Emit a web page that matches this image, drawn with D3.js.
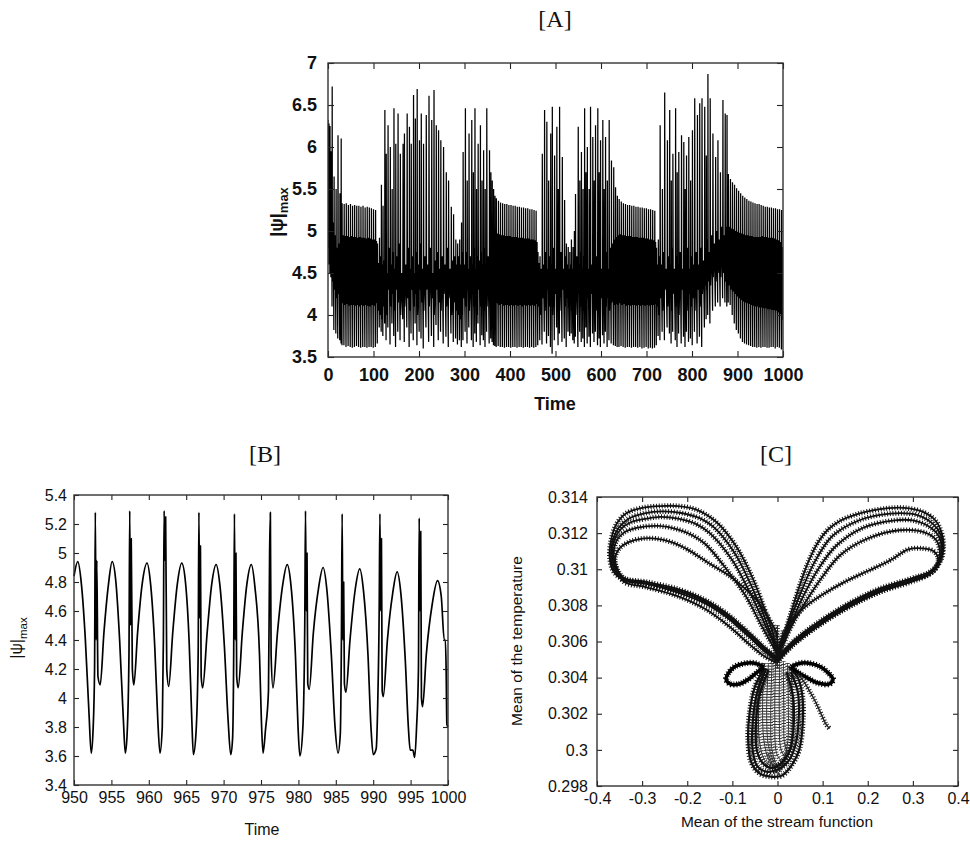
<!DOCTYPE html>
<html>
<head>
<meta charset="utf-8">
<script src="https://cdn.jsdelivr.net/npm/d3@7"></script>
<style>
  body { margin: 0; background: #fff; }
  svg { display: block; }
  .tick line { stroke: #222; stroke-width: 1.1; }
  .domain { display: none; }
  .title { font-family: "Liberation Serif", "DejaVu Serif", serif; font-size: 24px; fill: #111; }
</style>
</head>
<body>
<svg id="chart" width="970" height="841"></svg>
<script>
// ---------- panel A : |psi|max vs time (one row per oscillation cycle) ----------
// [time, spike, local min, broad peak, deep min]
var aCycles = [
  [0, 6.32, 4.8, 5.9, 4.6], [2.2, 6.28, 4.6, 6.05, 4.5], [4.4, 6.25, 4.9, 5.7, 4.45], [6.6, 5.95, 4.5, 5.4, 4.1],
  [9.2, 6.72, 4.4, 5.1, 3.82], [13.4, 5.65, 4.3, 4.95, 3.78], [17.8, 5.5, 4.2, 4.8, 3.72], [22.0, 6.14, 4.25, 4.85, 3.7],
  [26.3, 5.45, 4.2, 4.9, 3.66], [29.0, 6.1, 4.15, 4.93, 3.64],
  [31.0, 5.33, 4.14, 4.95, 3.64], [35.6, 5.32, 4.12, 4.94, 3.62], [40.2, 5.33, 4.13, 4.94, 3.63], [44.8, 5.31, 4.11, 4.93, 3.62],
  [49.4, 5.32, 4.12, 4.94, 3.61], [54.0, 5.30, 4.12, 4.93, 3.62], [58.6, 5.31, 4.11, 4.93, 3.63], [63.2, 5.30, 4.12, 4.92, 3.62],
  [67.8, 5.30, 4.10, 4.93, 3.61], [72.4, 5.29, 4.12, 4.92, 3.62], [77.0, 5.30, 4.11, 4.92, 3.62], [81.6, 5.28, 4.12, 4.91, 3.61],
  [86.2, 5.29, 4.11, 4.92, 3.62], [90.8, 5.28, 4.10, 4.91, 3.62], [95.4, 5.27, 4.12, 4.90, 3.61], [100.0, 5.26, 4.11, 4.90, 3.62],
  [104.6, 5.25, 4.14, 4.88, 3.66],
  [108.8, 4.85, 4.05, 4.62, 3.85], [113.2, 4.92, 4.0, 4.7, 3.8], [117.4, 5.55, 3.95, 4.6, 3.75], [121.0, 5.3, 4.1, 4.65, 3.9],
  [125, 6.44, 4.2, 4.7, 3.7], [128, 5.92, 4.0, 4.5, 3.85], [132, 6.26, 4.3, 4.8, 3.65], [137, 6.0, 4.1, 4.6, 3.9],
  [141, 5.5, 4.25, 4.75, 3.75], [145, 6.46, 4.05, 4.55, 3.62], [149, 6.04, 4.3, 4.7, 3.8], [154, 6.4, 4.15, 4.85, 3.7],
  [159, 5.92, 4.0, 4.5, 3.95], [165, 6.04, 4.35, 4.65, 3.68], [168, 6.16, 4.1, 4.6, 3.85], [174, 6.4, 4.2, 4.8, 3.62],
  [179, 6.24, 4.05, 4.55, 3.78], [183, 6.04, 4.3, 4.7, 3.7], [188, 6.62, 4.1, 4.5, 3.9], [192, 6.34, 4.25, 4.75, 3.64],
  [196, 6.69, 4.0, 4.6, 3.8], [201, 6.08, 4.3, 4.85, 3.72], [205, 6.4, 4.15, 4.55, 3.6], [210, 6.04, 4.05, 4.7, 3.85],
  [216, 6.38, 4.3, 4.6, 3.68], [222, 6.61, 4.1, 4.8, 3.75], [228, 6.32, 4.2, 4.5, 3.62], [233, 6.68, 4.0, 4.65, 3.88],
  [238, 6.26, 4.3, 4.75, 3.7], [243, 6.2, 4.15, 4.55, 3.8], [248, 6.08, 4.05, 4.7, 3.66], [254, 6.0, 4.25, 4.6, 3.74],
  [260, 5.7, 4.1, 4.8, 3.62], [265, 5.6, 4.2, 4.55, 3.78], [271, 5.29, 4.0, 4.65, 3.68], [276, 5.2, 4.15, 4.7, 3.72],
  [281, 4.9, 4.05, 4.6, 3.65], [285, 4.85, 4.0, 4.7, 3.7], [289.5, 4.9, 3.95, 4.6, 3.62], [293.5, 5.1, 4.0, 4.75, 3.7],
  [297, 5.94, 4.2, 4.6, 3.8], [302, 6.46, 4.1, 4.75, 3.66], [306, 5.6, 4.3, 4.55, 3.85], [310, 6.16, 4.05, 4.7, 3.7],
  [316, 6.32, 4.25, 4.6, 3.62], [319.5, 5.7, 4.1, 4.8, 3.78], [323, 6.46, 4.2, 4.55, 3.68], [326.5, 5.5, 4.0, 4.7, 3.9],
  [330, 6.04, 4.3, 4.65, 3.64], [335, 6.26, 4.1, 4.75, 3.76], [338.5, 5.6, 4.2, 4.6, 3.7], [342, 5.96, 4.05, 4.8, 3.62],
  [345.5, 5.5, 4.25, 4.55, 3.8], [349, 6.46, 4.1, 4.7, 3.66], [355, 5.96, 4.2, 4.85, 3.72], [358, 5.7, 4.1, 4.75, 3.68],
  [361, 5.6, 4.15, 4.9, 3.64], [364, 5.5, 4.12, 4.92, 3.63], [367, 5.42, 4.13, 4.95, 3.62],
  [370.0, 5.39, 4.14, 4.97, 3.63], [374.6, 5.36, 4.12, 4.96, 3.62], [379.2, 5.34, 4.13, 4.95, 3.62], [383.8, 5.33, 4.11, 4.95, 3.61],
  [388.4, 5.32, 4.12, 4.94, 3.62], [393.0, 5.32, 4.12, 4.94, 3.62], [397.6, 5.31, 4.11, 4.94, 3.61], [402.2, 5.31, 4.12, 4.93, 3.62],
  [406.8, 5.30, 4.11, 4.93, 3.62], [411.4, 5.30, 4.12, 4.93, 3.61], [416.0, 5.29, 4.11, 4.92, 3.62], [420.6, 5.29, 4.12, 4.92, 3.62],
  [425.2, 5.28, 4.10, 4.92, 3.61], [429.8, 5.28, 4.12, 4.91, 3.62], [434.4, 5.27, 4.11, 4.91, 3.62], [439.0, 5.27, 4.12, 4.91, 3.61],
  [443.6, 5.26, 4.11, 4.90, 3.62], [448.2, 5.26, 4.12, 4.90, 3.61], [452.8, 5.25, 4.11, 4.89, 3.62], [457.4, 5.24, 4.13, 4.87, 3.64],
  [461.5, 4.75, 4.1, 4.62, 3.7], [466.0, 4.7, 4.0, 4.55, 3.65],
  [471, 5.92, 4.2, 4.6, 3.8], [476, 6.44, 4.05, 4.75, 3.66], [481, 6.3, 4.3, 4.55, 3.75], [485, 5.6, 4.1, 4.7, 3.62],
  [489.5, 6.16, 4.2, 4.6, 3.54], [493, 6.48, 4.0, 4.8, 3.7], [498, 5.9, 4.25, 4.55, 3.85], [503, 6.24, 4.1, 4.7, 3.64],
  [506, 5.5, 4.2, 4.6, 3.78], [509, 6.48, 4.05, 4.75, 3.68], [515, 5.88, 4.3, 4.55, 3.72], [520, 5.37, 4.1, 4.7, 3.62],
  [524, 4.85, 4.2, 4.6, 3.8], [528, 4.81, 4.1, 4.55, 3.75], [531.5, 4.75, 4.15, 4.6, 3.78], [535, 4.9, 4.05, 4.55, 3.7],
  [538.5, 4.81, 4.2, 4.6, 3.66], [541.5, 5.0, 4.1, 4.55, 3.74], [544, 5.44, 4.0, 4.7, 3.62], [550, 6.24, 4.25, 4.6, 3.8],
  [553.5, 5.6, 4.1, 4.75, 3.68], [557, 5.94, 4.2, 4.55, 3.72], [560.5, 5.5, 4.05, 4.7, 3.62], [564, 6.46, 4.3, 4.6, 3.85],
  [567, 5.7, 4.1, 4.8, 3.66], [570, 6.0, 4.2, 4.55, 3.74], [574, 5.5, 4.0, 4.7, 3.62], [577, 6.48, 4.25, 4.6, 3.78],
  [582, 6.12, 4.1, 4.75, 3.68], [585, 5.6, 4.2, 4.55, 3.8], [588, 6.26, 4.05, 4.7, 3.64], [593, 6.46, 4.3, 4.6, 3.72],
  [596, 5.7, 4.1, 4.8, 3.62], [599, 6.08, 4.2, 4.55, 3.76], [604, 6.32, 4.0, 4.7, 3.66], [607, 5.5, 4.25, 4.6, 3.8],
  [610, 6.12, 4.1, 4.75, 3.62], [614, 5.6, 4.2, 4.55, 3.7], [618, 6.32, 4.05, 4.8, 3.66], [623, 5.84, 4.15, 4.85, 3.64],
  [628, 5.76, 4.12, 4.9, 3.63], [632, 5.52, 4.13, 4.93, 3.62], [636, 5.42, 4.12, 4.95, 3.62],
  [640.0, 5.38, 4.14, 4.96, 3.63], [644.6, 5.35, 4.12, 4.95, 3.62], [649.2, 5.33, 4.13, 4.95, 3.61], [653.8, 5.32, 4.11, 4.94, 3.62],
  [658.4, 5.31, 4.12, 4.94, 3.62], [663.0, 5.31, 4.11, 4.94, 3.61], [667.6, 5.30, 4.12, 4.93, 3.62], [672.2, 5.30, 4.12, 4.93, 3.62],
  [676.8, 5.29, 4.11, 4.93, 3.61], [681.4, 5.29, 4.12, 4.92, 3.62], [686.0, 5.28, 4.11, 4.92, 3.60], [690.6, 5.28, 4.12, 4.92, 3.61],
  [695.2, 5.27, 4.11, 4.91, 3.62], [699.8, 5.27, 4.12, 4.91, 3.60], [704.4, 5.26, 4.11, 4.90, 3.61], [709.0, 5.26, 4.12, 4.90, 3.60],
  [713.6, 5.25, 4.12, 4.89, 3.61], [718.2, 5.24, 4.13, 4.87, 3.64],
  [722.0, 4.8, 4.1, 4.6, 3.75], [726.0, 4.9, 4.0, 4.7, 3.7],
  [730, 6.26, 4.2, 4.6, 3.8], [735, 5.5, 4.05, 4.75, 3.7], [740, 6.65, 4.3, 4.55, 3.85], [746, 6.08, 4.1, 4.7, 3.78],
  [751, 6.44, 4.2, 4.6, 3.66], [754.5, 5.6, 4.05, 4.8, 3.8], [758, 5.92, 4.25, 4.55, 3.7], [764, 6.46, 4.1, 4.7, 3.62],
  [767.5, 5.7, 4.2, 4.6, 3.78], [771, 5.94, 4.0, 4.75, 3.66], [777, 6.14, 4.3, 4.55, 3.74], [782, 6.06, 4.1, 4.7, 3.62],
  [785, 5.5, 4.2, 4.6, 3.8], [788, 5.9, 4.05, 4.8, 3.68], [793, 6.12, 4.25, 4.55, 3.72], [797, 5.6, 4.1, 4.7, 3.64],
  [801, 6.2, 4.2, 4.6, 3.8], [806, 6.58, 4.05, 4.75, 3.66], [812, 6.38, 4.3, 4.6, 3.74], [817, 6.52, 4.1, 4.8, 3.62],
  [822, 6.58, 4.25, 4.65, 3.85], [828, 6.48, 4.35, 4.8, 3.95], [831.5, 5.9, 4.3, 4.9, 4.0], [835, 6.87, 4.4, 4.75, 3.9],
  [840, 6.58, 4.35, 4.95, 4.05], [846, 6.16, 4.45, 4.85, 4.1], [852, 5.88, 4.4, 5.0, 4.15], [857, 6.08, 4.5, 4.9, 4.1],
  [862.5, 5.7, 4.45, 5.05, 4.2], [868, 6.56, 4.5, 4.95, 4.15], [873, 6.4, 4.4, 5.05, 4.1], [877, 6.38, 4.45, 5.0, 4.15],
  [880, 5.68, 4.35, 5.05, 4.12], [884.5, 5.62, 4.3, 5.03, 4.0], [889, 5.58, 4.28, 5.02, 3.9], [893.5, 5.55, 4.25, 5.0, 3.82],
  [898, 5.51, 4.22, 4.99, 3.78], [902.5, 5.48, 4.2, 4.98, 3.72], [907, 5.45, 4.18, 4.97, 3.68], [911.5, 5.42, 4.16, 4.96, 3.66],
  [916, 5.40, 4.15, 4.95, 3.65], [920.5, 5.38, 4.14, 4.95, 3.64], [925, 5.36, 4.13, 4.94, 3.63], [929.5, 5.35, 4.12, 4.94, 3.62],
  [934, 5.34, 4.11, 4.93, 3.62], [938.5, 5.33, 4.1, 4.93, 3.61], [943, 5.32, 4.1, 4.93, 3.62], [947.5, 5.32, 4.09, 4.93, 3.61],
  [952, 5.31, 4.09, 4.94, 3.62], [956.5, 5.30, 4.08, 4.93, 3.62], [961, 5.29, 4.08, 4.93, 3.61], [965.5, 5.29, 4.07, 4.92, 3.61],
  [970, 5.28, 4.07, 4.92, 3.62], [974.5, 5.28, 4.06, 4.92, 3.62], [979, 5.27, 4.06, 4.91, 3.60], [983.5, 5.27, 4.05, 4.90, 3.62],
  [988, 5.26, 4.03, 4.89, 3.61], [992.5, 5.26, 4.01, 4.87, 3.59], [997, 5.25, 3.94, 4.81, 3.6]
];
var aXTicks = [0, 100, 200, 300, 400, 500, 600, 700, 800, 900, 1000];
var aYTicks = [3.5, 4, 4.5, 5, 5.5, 6, 6.5, 7];

// ---------- panel B : zoom on the last 50 time units ----------
var bTime = [950.0, 950.5, 951.0, 951.5, 952.0, 952.3, 952.55, 952.75, 952.85, 952.95, 953.05, 953.2, 953.5, 954.0, 954.6,
  955.1, 955.6, 956.1, 956.6, 956.86, 957.1, 957.35, 957.45, 957.55, 957.65, 957.8, 958.0, 958.5, 959.1,
  959.76, 960.25, 960.8, 961.2, 961.5, 961.8, 961.95, 962.05, 962.15, 962.25, 962.4, 962.66, 963.2, 963.8,
  964.4, 964.9, 965.4, 965.75, 965.96, 966.3, 966.6, 966.7, 966.8, 966.9, 967.0, 967.2, 967.8, 968.4,
  969.0, 969.5, 970.1, 970.6, 970.95, 971.2, 971.35, 971.45, 971.55, 971.65, 971.75, 971.95, 972.5, 973.1,
  973.7, 974.2, 974.8, 975.05, 975.27, 975.6, 976.0, 976.15, 976.25, 976.35, 976.6, 977.2, 977.9,
  978.5, 979.0, 979.6, 979.95, 980.2, 980.6, 980.85, 980.95, 981.05, 981.15, 981.25, 981.45, 982.0, 982.7,
  983.3, 983.8, 984.4, 984.9, 985.3, 985.6, 985.75, 985.85, 985.95, 986.05, 986.15, 986.35, 986.9, 987.6,
  988.2, 988.7, 989.3, 989.7, 990.0, 990.4, 990.6, 990.8, 990.9, 991.0, 991.1, 991.2, 991.35, 991.9, 992.6,
  993.2, 993.7, 994.3, 994.7, 994.95, 995.3, 995.55, 995.8, 996.05, 996.15, 996.25, 996.35, 996.45, 996.6, 997.1, 997.9,
  998.6, 999.1, 999.5, 999.65, 999.75, 999.85, 1000];
var bPsi = [4.84, 4.94, 4.78, 4.42, 3.90, 3.62, 3.78, 4.20, 5.28, 4.40, 4.95, 4.15, 4.09, 4.45, 4.78,
  4.94, 4.80, 4.40, 3.85, 3.62, 3.75, 4.30, 5.29, 4.50, 5.10, 4.20, 4.09, 4.45, 4.78,
  4.93, 4.78, 4.35, 3.85, 3.62, 3.80, 4.40, 5.29, 4.95, 5.25, 4.20, 4.08, 4.45, 4.78,
  4.93, 4.80, 4.38, 3.85, 3.61, 3.75, 4.30, 5.28, 4.55, 5.05, 4.15, 4.07, 4.45, 4.78,
  4.92, 4.78, 4.36, 3.85, 3.61, 3.72, 4.30, 5.27, 4.40, 5.00, 4.15, 4.07, 4.45, 4.78,
  4.92, 4.76, 4.30, 3.85, 3.62, 3.78, 4.05, 5.00, 5.28, 4.30, 4.07, 4.45, 4.78,
  4.92, 4.78, 4.30, 3.80, 3.60, 3.80, 4.50, 5.29, 4.60, 5.00, 4.10, 4.06, 4.45, 4.76,
  4.90, 4.75, 4.30, 3.80, 3.62, 3.75, 4.40, 5.27, 4.40, 4.80, 4.10, 4.04, 4.40, 4.75,
  4.89, 4.74, 4.30, 3.80, 3.61, 3.65, 3.95, 4.60, 5.27, 4.60, 5.10, 4.05, 4.01, 4.40, 4.72,
  4.87, 4.72, 4.25, 3.80, 3.64, 3.64, 3.59, 3.80, 4.20, 5.24, 4.60, 5.15, 4.00, 3.94, 4.30, 4.65,
  4.81, 4.70, 4.40, 4.40, 4.20, 3.82, 3.80];
var bXTicks = [950, 955, 960, 965, 970, 975, 980, 985, 990, 995, 1000];
var bYTicks = [3.4, 3.6, 3.8, 4, 4.2, 4.4, 4.6, 4.8, 5, 5.2, 5.4];

// ---------- panel C : phase portrait (mean stream function, mean temperature) ----------
var cLeftLoops = [
  [[0.0,0.3050],[-0.03,0.3056],[-0.06,0.3063],[-0.11,0.3074],[-0.16,0.3082],[-0.22,0.3088],[-0.29,0.3092],[-0.34,0.3094],[-0.364,0.3099],
   [-0.372,0.3107],[-0.369,0.3116],[-0.357,0.3125],[-0.335,0.3131],[-0.30,0.3134],[-0.26,0.3135],[-0.22,0.3135],[-0.18,0.3133],
   [-0.135,0.3126],[-0.09,0.3112],[-0.055,0.3095],[-0.03,0.3079],[-0.012,0.3066],[0.0,0.3054]],
  [[0.0,0.3051],[-0.03,0.3057],[-0.06,0.3064],[-0.11,0.3075],[-0.16,0.3083],[-0.22,0.3089],[-0.29,0.3093],[-0.34,0.3095],[-0.362,0.3100],
   [-0.369,0.3108],[-0.365,0.3116],[-0.352,0.3123],[-0.33,0.3128],[-0.295,0.3131],[-0.255,0.3132],[-0.21,0.3131],[-0.17,0.3128],
   [-0.14,0.3123],[-0.095,0.3109],[-0.06,0.3092],[-0.033,0.3076],[-0.013,0.3063],[0.0,0.3054]],
  [[0.0,0.3049],[-0.03,0.3055],[-0.06,0.3062],[-0.11,0.3073],[-0.16,0.3081],[-0.22,0.3087],[-0.29,0.3092],[-0.34,0.3094],[-0.36,0.3101],
   [-0.366,0.3109],[-0.362,0.3116],[-0.348,0.3122],[-0.325,0.3126],[-0.29,0.3128],[-0.26,0.3129],[-0.22,0.3128],[-0.18,0.3125],
   [-0.15,0.3120],[-0.10,0.3105],[-0.065,0.3089],[-0.036,0.3074],[-0.014,0.3062],[0.0,0.3054]],
  [[0.0,0.3048],[-0.03,0.3052],[-0.06,0.3058],[-0.11,0.3069],[-0.16,0.3078],[-0.22,0.3085],[-0.29,0.3090],[-0.34,0.3093],[-0.358,0.3101],
   [-0.363,0.3108],[-0.358,0.3115],[-0.342,0.3120],[-0.31,0.3123],[-0.265,0.3124],[-0.22,0.3122],[-0.19,0.3119],
   [-0.16,0.3114],[-0.11,0.3099],[-0.07,0.3085],[-0.04,0.3071],[-0.016,0.3060],[0.0,0.3053]],
  [[0.0,0.3050],[-0.03,0.3056],[-0.06,0.3063],[-0.11,0.3074],[-0.16,0.3082],[-0.22,0.3088],[-0.29,0.3092],[-0.34,0.3095],[-0.355,0.3100],
   [-0.36,0.3106],[-0.352,0.3111],[-0.33,0.3115],[-0.30,0.3117],[-0.27,0.3117],[-0.235,0.3115],[-0.2,0.3111],
   [-0.15,0.3103],[-0.11,0.3097],[-0.075,0.3090],[-0.043,0.3082],[-0.02,0.3073],[-0.003,0.3065],[0.0,0.3055]]
];
var cRightLoops = [
  [[0.0,0.3050],[0.03,0.3058],[0.075,0.3067],[0.15,0.3079],[0.223,0.3088],[0.297,0.3094],[0.34,0.3098],[0.362,0.3105],[0.368,0.3112],
   [0.364,0.3120],[0.35,0.3127],[0.32,0.3132],[0.28,0.3134],[0.245,0.31338],[0.20,0.3132],[0.17,0.3130],[0.14,0.3127],
   [0.112,0.3122],[0.09,0.3115],[0.068,0.3104],[0.045,0.3088],[0.025,0.3072],[0.01,0.3060],[0.0,0.3052]],
  [[0.0,0.3051],[0.03,0.3059],[0.075,0.3068],[0.15,0.3080],[0.223,0.3089],[0.297,0.3095],[0.34,0.3099],[0.36,0.3105],[0.366,0.3112],
   [0.362,0.3119],[0.345,0.3125],[0.31,0.3130],[0.25,0.31308],[0.18,0.3127],[0.12,0.3118],[0.08,0.3103],[0.05,0.3086],
   [0.025,0.3070],[0.01,0.3059],[0.0,0.3052]],
  [[0.0,0.3049],[0.03,0.3057],[0.075,0.3066],[0.15,0.3078],[0.223,0.3087],[0.297,0.3094],[0.34,0.3098],[0.358,0.3104],[0.364,0.3111],
   [0.358,0.3118],[0.34,0.3123],[0.30,0.3127],[0.26,0.31271],[0.19,0.3123],[0.13,0.3113],[0.09,0.3100],[0.055,0.3084],
   [0.028,0.3069],[0.01,0.3058],[0.0,0.3052]],
  [[0.0,0.3050],[0.03,0.3058],[0.075,0.3067],[0.15,0.3079],[0.223,0.3088],[0.297,0.3094],[0.34,0.3098],[0.355,0.3103],[0.36,0.3109],
   [0.352,0.3116],[0.33,0.3120],[0.27,0.31216],[0.2,0.3117],[0.14,0.3108],[0.10,0.3096],[0.06,0.3081],[0.03,0.3068],
   [0.012,0.3058],[0.0,0.3052]],
  [[0.0,0.3049],[0.03,0.3057],[0.075,0.3066],[0.15,0.3078],[0.223,0.3087],[0.297,0.3093],[0.335,0.3097],[0.352,0.3101],[0.356,0.3106],
   [0.346,0.3110],[0.322,0.31115],[0.29,0.3111],[0.25,0.3105],[0.2,0.3099],[0.149,0.3093],[0.10,0.3086],[0.065,0.3080],
   [0.04,0.3074],[0.02,0.3067],[0.006,0.3059],[0.0,0.3052]]
];
var cSmallLoops = [
  [[-0.03,0.3046],[-0.05,0.3048],[-0.07,0.3048],[-0.095,0.3046],[-0.11,0.3042],[-0.114,0.3039],[-0.105,0.30365],[-0.085,0.30365],
   [-0.065,0.3039],[-0.045,0.3043],[-0.03,0.3046]],
  [[0.03,0.3046],[0.05,0.3048],[0.07,0.3048],[0.095,0.3046],[0.115,0.3042],[0.123,0.3039],[0.115,0.30365],[0.09,0.3037],
   [0.065,0.3040],[0.045,0.3043],[0.03,0.3046]]
];
var cLowerLoops = [
  [[-0.03,0.3045],[-0.05,0.3035],[-0.062,0.3020],[-0.065,0.3005],[-0.058,0.2993],[-0.04,0.2987],[-0.015,0.29852],[0.01,0.29858],
   [0.03,0.2991],[0.048,0.3000],[0.056,0.3015],[0.055,0.3030],[0.045,0.3040],[0.025,0.3046]],
  [[-0.025,0.3045],[-0.045,0.3032],[-0.055,0.3015],[-0.055,0.3000],[-0.045,0.2991],[-0.025,0.2988],[0.0,0.2989],[0.025,0.2994],
   [0.04,0.3003],[0.047,0.3017],[0.045,0.3032],[0.03,0.3043]],
  [[-0.02,0.3044],[-0.04,0.3030],[-0.048,0.3012],[-0.045,0.2999],[-0.03,0.2992],[-0.01,0.2990],[0.01,0.2993],[0.028,0.3000],
   [0.036,0.3014],[0.034,0.3030],[0.02,0.3043]]
];
var cHatch = [
  [[-0.038,0.3046],[-0.042,0.3025],[-0.04,0.3005],[-0.03,0.2995],[-0.015,0.2991]],
  [[-0.03,0.3048],[-0.033,0.3025],[-0.03,0.3005],[-0.018,0.2994],[0.0,0.2990]],
  [[-0.02,0.3048],[-0.024,0.3022],[-0.02,0.3002],[-0.008,0.2993]],
  [[-0.012,0.3048],[-0.015,0.3020],[-0.012,0.3000],[0.0,0.2992],[0.015,0.2995]],
  [[-0.004,0.3050],[-0.006,0.3020],[-0.002,0.2998],[0.008,0.2994]],
  [[0.005,0.3050],[0.004,0.3020],[0.008,0.3000],[0.02,0.2995]],
  [[0.013,0.3049],[0.014,0.3022],[0.016,0.3003],[0.025,0.2998]],
  [[0.022,0.3048],[0.024,0.3025],[0.022,0.3003],[0.01,0.2993],[-0.01,0.2991]],
  [[0.03,0.3046],[0.033,0.3025],[0.03,0.3005],[0.02,0.2996]],
  [[-0.012,0.3068],[-0.006,0.3058],[-0.002,0.3050]],
  [[0.0,0.3069],[0.0,0.3045]],
  [[0.012,0.3066],[0.006,0.3057],[0.002,0.3050]],
  [[-0.02,0.2998],[-0.008,0.2990],[0.0,0.2987],[0.01,0.2991],[0.022,0.2998]]
];
var cTail = [[0.045,0.3042],[0.0565,0.30385],[0.07,0.3033],[0.0862,0.30256],[0.10,0.3018],[0.108,0.3014],[0.1157,0.30118]];
var cXTicks = [-0.4, -0.3, -0.2, -0.1, 0, 0.1, 0.2, 0.3, 0.4];
var cYTicks = [0.298, 0.3, 0.302, 0.304, 0.306, 0.308, 0.31, 0.312, 0.314];

var svg = d3.select("#chart");
svg.append("rect").attr("width", 970).attr("height", 841).attr("fill", "#fff");

var fmt = function(d) { return String(+d.toFixed(3)); };

// gnuplot-like box with mirrored inward ticks
function drawFrame(g, x, y, xt, yt, o) {
  var x0 = x.range()[0], x1 = x.range()[1], y0 = y.range()[0], y1 = y.range()[1];
  g.append("g").attr("transform", "translate(0," + y0 + ")")
    .call(d3.axisBottom(x).tickValues(xt).tickSize(-o.tick).tickSizeOuter(0).tickPadding(o.padX).tickFormat(fmt));
  g.append("g").attr("transform", "translate(0," + y1 + ")")
    .call(d3.axisTop(x).tickValues(xt).tickSize(-o.tick).tickSizeOuter(0).tickFormat(""));
  g.append("g").attr("transform", "translate(" + x0 + ",0)")
    .call(d3.axisLeft(y).tickValues(yt).tickSize(-o.tick).tickSizeOuter(0).tickPadding(o.padY).tickFormat(fmt));
  g.append("g").attr("transform", "translate(" + x1 + ",0)")
    .call(d3.axisRight(y).tickValues(yt).tickSize(-o.tick).tickSizeOuter(0).tickFormat(""));
  g.selectAll(".tick text")
    .attr("font-family", "'Liberation Sans', Arial, sans-serif")
    .attr("font-size", o.font).attr("font-weight", o.weight).attr("fill", "#111");
  g.append("rect").attr("x", x0).attr("y", y1).attr("width", x1 - x0).attr("height", y0 - y1)
    .attr("fill", "none").attr("stroke", "#333").attr("stroke-width", 1.4);
}

function psiLabel(g, x, y, size, weight) {
  var t = g.append("text").attr("transform", "translate(" + x + "," + y + ") rotate(-90)")
    .attr("text-anchor", "middle").attr("font-family", "'Liberation Sans', Arial, sans-serif")
    .attr("font-size", size).attr("font-weight", weight).attr("fill", "#111");
  t.append("tspan").text("|\u03C8|");
  t.append("tspan").attr("dy", size * 0.3).attr("font-size", size * 0.72).text("max");
}

function axisTitle(g, x, y, txt, size, weight, rot) {
  g.append("text").attr("transform", "translate(" + x + "," + y + ")" + (rot ? " rotate(-90)" : ""))
    .attr("text-anchor", "middle").attr("font-family", "'Liberation Sans', Arial, sans-serif")
    .attr("font-size", size).attr("font-weight", weight).attr("fill", "#111").text(txt);
}

// ---------------- Panel A ----------------
var xA = d3.scaleLinear().domain([0, 1000]).range([328, 783]);
var yA = d3.scaleLinear().domain([3.5, 7]).range([357, 63]);
var gA = svg.append("g");
svg.append("clipPath").attr("id", "clipA").append("rect").attr("x", 328).attr("y", 63).attr("width", 455).attr("height", 294);

var aPts = [];
aCycles.forEach(function(c, i) {
  var next = i < aCycles.length - 1 ? aCycles[i + 1][0] : c[0] + 4.6;
  var dt = next - c[0];
  aPts.push([c[0], c[1]], [c[0] + 0.13 * dt, c[2]], [c[0] + 0.5 * dt, c[3]], [c[0] + 0.87 * dt, c[4]]);
});
gA.append("path").datum(aPts).attr("clip-path", "url(#clipA)")
  .attr("fill", "none").attr("stroke", "#000").attr("stroke-width", 1.25)
  .attr("d", d3.line().x(function(d) { return xA(d[0]); }).y(function(d) { return yA(d[1]); }));
drawFrame(gA, xA, yA, aXTicks, aYTicks, { tick: 6, padX: 11, padY: 11, font: 18, weight: "bold" });
svg.append("text").attr("class", "title").attr("x", 555).attr("y", 27).attr("text-anchor", "middle").text("[A]");
axisTitle(gA, 555, 410, "Time", 18, "bold", false);
psiLabel(gA, 283, 212, 18, "bold");

// ---------------- Panel B ----------------
var xB = d3.scaleLinear().domain([950, 1000]).range([74, 448]);
var yB = d3.scaleLinear().domain([3.4, 5.4]).range([785, 495]);
var gB = svg.append("g");
gB.append("path").datum(d3.zip(bTime, bPsi))
  .attr("fill", "none").attr("stroke", "#000").attr("stroke-width", 1.7).attr("stroke-linejoin", "round")
  .attr("d", d3.line().x(function(d) { return xB(d[0]); }).y(function(d) { return yB(d[1]); }).curve(d3.curveMonotoneX));
drawFrame(gB, xB, yB, bXTicks, bYTicks, { tick: 5, padX: 7, padY: 7, font: 16, weight: "normal" });
svg.append("text").attr("class", "title").attr("x", 265).attr("y", 462).attr("text-anchor", "middle").text("[B]");
axisTitle(gB, 262, 835, "Time", 16, "normal", false);
psiLabel(gB, 22, 638, 16, "normal");

// ---------------- Panel C ----------------
var xC = d3.scaleLinear().domain([-0.4, 0.4]).range([597, 958]);
var yC = d3.scaleLinear().domain([0.298, 0.314]).range([786, 497]);
var gC = svg.append("g");
var lineC = d3.line().x(function(d) { return xC(d[0]); }).y(function(d) { return yC(d[1]); }).curve(d3.curveCatmullRom);
// each trajectory: thin core line plus a wide dashed stroke that reads as a chain of '+' markers
function drawLoops(data, core, bar, color) {
  var g = gC.append("g").attr("fill", "none").attr("stroke", color).attr("stroke-linejoin", "round");
  g.selectAll("path.core").data(data).join("path").attr("class", "core")
    .attr("stroke-width", core).attr("d", lineC);
  g.selectAll("path.bar").data(data).join("path").attr("class", "bar")
    .attr("stroke-width", bar).attr("stroke-dasharray", "1 1.8").attr("d", lineC);
}
drawLoops(cHatch, 1, 4.5, "#333");
drawLoops(cLeftLoops, 1.8, 5, "#111");
drawLoops(cRightLoops, 1.8, 5, "#111");
drawLoops(cLowerLoops, 2.2, 5.5, "#111");
drawLoops(cSmallLoops, 3.5, 6, "#000");
drawLoops([cTail], 1.4, 5, "#222");
drawFrame(gC, xC, yC, cXTicks, cYTicks, { tick: 5, padX: 7, padY: 9, font: 16, weight: "normal" });
svg.append("text").attr("class", "title").attr("x", 776).attr("y", 462).attr("text-anchor", "middle").text("[C]");
axisTitle(gC, 777, 827, "Mean of the stream function", 15.5, "normal", false);
axisTitle(gC, 522, 641, "Mean of the temperature", 15.5, "normal", true);
</script>
</body>
</html>
